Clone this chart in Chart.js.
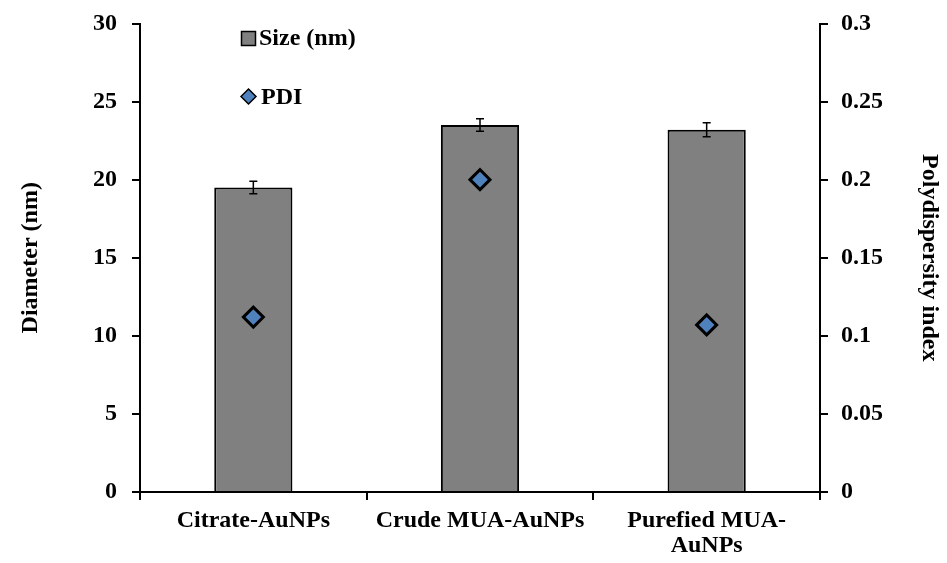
<!DOCTYPE html>
<html>
<head>
<meta charset="utf-8">
<script src="https://cdn.jsdelivr.net/npm/chart.js@4/dist/chart.umd.min.js"></script>
<style>
  html, body { margin: 0; padding: 0; background: #fff; }
  #wrap { width: 947px; height: 563px; position: relative; }
</style>
</head>
<body>
<div id="wrap"><canvas id="c" width="947" height="563"></canvas></div>
<script>
const categories = ['Citrate-AuNPs', 'Crude MUA-AuNPs', ['Purefied MUA-', 'AuNPs']];
const sizeValues = [19.5, 23.5, 23.2];
const sizeErrors = [0.4, 0.4, 0.45];
const pdiValues = [0.112, 0.200, 0.107];
const diameterTicks = [0, 5, 10, 15, 20, 25, 30];
const pdiTicks = [0, 0.05, 0.1, 0.15, 0.2, 0.25, 0.3];
const legendLabels = ['Size (nm)', 'PDI'];

const FONT_FAMILY = "'Liberation Serif', 'Times New Roman', serif";
const tickFont = { family: FONT_FAMILY, size: 24, weight: 'bold' };
const catFont = { family: FONT_FAMILY, size: 24, weight: 'bold', lineHeight: 1.05 };
const BAR_COLOR = '#808080';
const DIAMOND_COLOR = '#4F81BD';

const errorBarPlugin = {
  id: 'errorBars',
  afterDatasetsDraw(chart) {
    const meta = chart.getDatasetMeta(0);
    const ys = chart.scales.y;
    const ctx = chart.ctx;
    ctx.save();
    ctx.strokeStyle = '#000';
    ctx.lineWidth = 1.5;
    meta.data.forEach((el, i) => {
      const v = sizeValues[i], e = sizeErrors[i];
      const top = ys.getPixelForValue(v + e);
      const bot = ys.getPixelForValue(v - e);
      const x = el.x;
      ctx.beginPath();
      ctx.moveTo(x, top); ctx.lineTo(x, bot);
      ctx.moveTo(x - 4, top); ctx.lineTo(x + 4, top);
      ctx.moveTo(x - 4, bot); ctx.lineTo(x + 4, bot);
      ctx.stroke();
    });
    ctx.restore();
  }
};

const legendPlugin = {
  id: 'customLegend',
  afterDraw(chart) {
    const ctx = chart.ctx;
    ctx.save();
    ctx.fillStyle = BAR_COLOR;
    ctx.strokeStyle = '#000';
    ctx.lineWidth = 1.5;
    ctx.fillRect(241.5, 31.5, 14, 14);
    ctx.strokeRect(241.5, 31.5, 14, 14);
    ctx.fillStyle = '#000';
    ctx.font = 'bold 24px ' + FONT_FAMILY;
    ctx.textBaseline = 'middle';
    ctx.textAlign = 'left';
    ctx.fillText(legendLabels[0], 259, 39);
    const cx = 248.5, cy = 96.5, r = 7.5;
    ctx.beginPath();
    ctx.moveTo(cx, cy - r); ctx.lineTo(cx + r, cy); ctx.lineTo(cx, cy + r); ctx.lineTo(cx - r, cy); ctx.closePath();
    ctx.fillStyle = DIAMOND_COLOR;
    ctx.fill();
    ctx.strokeStyle = '#000';
    ctx.lineWidth = 1.5;
    ctx.stroke();
    ctx.fillStyle = '#000';
    ctx.fillText(legendLabels[1], 261, 98);
    ctx.restore();
  }
};

function fixVertical(width) {
  return function (scale) {
    scale.width = width;
    scale.paddingTop = 0;
    scale.paddingBottom = 0;
  };
}

new Chart(document.getElementById('c'), {
  type: 'bar',
  data: {
    labels: categories,
    datasets: [
      {
        type: 'bar',
        label: legendLabels[0],
        data: sizeValues,
        yAxisID: 'y',
        backgroundColor: BAR_COLOR,
        borderColor: '#000',
        borderWidth: 2,
        barPercentage: 0.345,
        categoryPercentage: 1,
        order: 2
      },
      {
        type: 'line',
        label: legendLabels[1],
        data: pdiValues,
        yAxisID: 'y1',
        showLine: false,
        pointStyle: 'rectRot',
        pointRadius: 10,
        pointBackgroundColor: DIAMOND_COLOR,
        pointBorderColor: '#000',
        pointBorderWidth: 3,
        order: 1
      }
    ]
  },
  options: {
    responsive: false,
    animation: false,
    devicePixelRatio: 1,
    layout: { padding: { top: 23.5, left: 0, right: 0, bottom: 0 } },
    plugins: {
      legend: { display: false },
      tooltip: { enabled: false }
    },
    scales: {
      x: {
        offset: true,
        grid: { display: true, offset: true, drawOnChartArea: false, drawTicks: true, tickLength: 8, color: '#000', lineWidth: 2 },
        border: { display: true, color: '#000', width: 2 },
        ticks: { font: catFont, color: '#000', padding: 8, maxRotation: 0, autoSkip: false },
        afterFit(scale) { scale.height = 71; }
      },
      y: {
        position: 'left',
        min: 0, max: 30,
        afterBuildTicks(scale) { scale.ticks = diameterTicks.map(v => ({ value: v })); },
        grid: { display: true, drawOnChartArea: false, drawTicks: true, tickLength: 8, color: '#000', lineWidth: 2 },
        border: { display: true, color: '#000', width: 2 },
        ticks: { font: tickFont, color: '#000', padding: 15 },
        title: { display: true, text: 'Diameter (nm)', font: tickFont, color: '#000', padding: { top: 16, bottom: 0 } },
        afterFit: fixVertical(140)
      },
      y1: {
        position: 'right',
        min: 0, max: 0.3,
        afterBuildTicks(scale) { scale.ticks = pdiTicks.map(v => ({ value: v })); },
        grid: { display: true, drawOnChartArea: false, drawTicks: true, tickLength: 8, color: '#000', lineWidth: 2 },
        border: { display: true, color: '#000', width: 2 },
        ticks: { font: tickFont, color: '#000', padding: 13, callback: v => String(parseFloat(Number(v).toFixed(2))) },
        title: { display: true, text: 'Polydispersity index', font: tickFont, color: '#000', padding: { top: 3, bottom: 0 } },
        afterFit: fixVertical(127)
      }
    }
  },
  plugins: [errorBarPlugin, legendPlugin]
});
</script>
</body>
</html>
